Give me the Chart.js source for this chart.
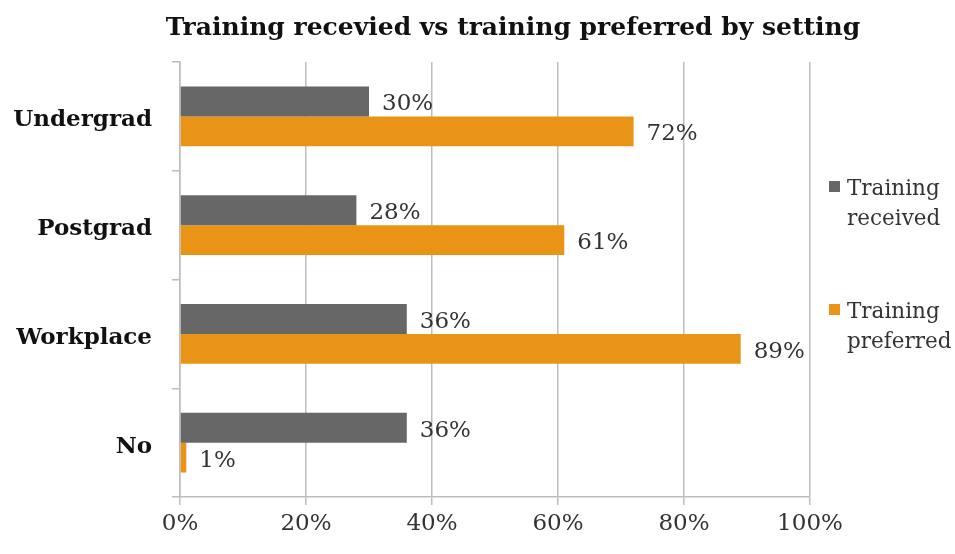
<!DOCTYPE html>
<html>
<head>
<meta charset="utf-8">
<script src="https://cdn.jsdelivr.net/npm/chart.js@4"></script>
<style>
html,body{margin:0;padding:0;background:#fff;}
#wrap{width:955px;height:554px;position:relative;}
</style>
</head>
<body>
<div id="wrap"><canvas id="c" width="955" height="554"></canvas></div>
<script>
const categories = ["Undergrad", "Postgrad", "Workplace", "No"];
const seriesNames = [["Training", "received"], ["Training", "preferred"]];
const received = [30, 28, 36, 36];
const preferred = [72, 61, 89, 1];
const xTicks = [0, 20, 40, 60, 80, 100];
const titleText = "Training recevied vs training preferred by setting";

const FONT = "'DejaVu Serif', serif";
const colors = ["#676767", "#E99417"];

const labelPlugin = {
  id: 'valueLabels',
  afterDatasetsDraw(chart) {
    const ctx = chart.ctx;
    ctx.save();
    ctx.font = "23px " + FONT;
    ctx.fillStyle = "#333";
    ctx.textBaseline = "middle";
    ctx.textAlign = "left";
    chart.data.datasets.forEach((ds, di) => {
      const meta = chart.getDatasetMeta(di);
      meta.data.forEach((bar, i) => {
        ctx.fillText(ds.data[i] + "%", bar.x + 13, bar.y + 3);
      });
    });
    // category labels
    const ys = chart.scales.y;
    ctx.font = "bold 23px " + FONT;
    ctx.fillStyle = "#111";
    ctx.textAlign = "right";
    chart.data.labels.forEach((lab, i) => {
      ctx.fillText(lab, ys.right - 28, ys.getPixelForValue(i) + 4);
    });
    ctx.restore();
  }
};

const titlePlugin = {
  id: 'customTitle',
  afterDraw(chart) {
    const ctx = chart.ctx;
    ctx.save();
    ctx.font = "bold 25px " + FONT;
    ctx.fillStyle = "#111";
    ctx.textAlign = "center";
    ctx.textBaseline = "middle";
    ctx.fillText(titleText, 513, 28);
    ctx.restore();
  }
};

const legendPlugin = {
  id: 'customLegend',
  afterDraw(chart) {
    const ctx = chart.ctx;
    ctx.save();
    ctx.font = "21.5px " + FONT;
    ctx.textAlign = "left";
    ctx.textBaseline = "middle";
    const tops = [187, 310];
    chart.data.datasets.forEach((ds, di) => {
      ctx.fillStyle = ds.backgroundColor;
      ctx.fillRect(829, tops[di] - 6, 11, 11);
      ctx.fillStyle = "#333";
      ds.legendLines.forEach((ln, k) => ctx.fillText(ln, 847, tops[di] + 2 + k * 30));
    });
    ctx.restore();
  }
};

new Chart(document.getElementById('c'), {
  type: 'bar',
  data: {
    labels: categories,
    datasets: [
      { label: seriesNames[0].join(' '), legendLines: seriesNames[0], data: received, backgroundColor: colors[0], categoryPercentage: 0.55, barPercentage: 1.0 },
      { label: seriesNames[1].join(' '), legendLines: seriesNames[1], data: preferred, backgroundColor: colors[1], categoryPercentage: 0.55, barPercentage: 1.0 }
    ]
  },
  options: {
    indexAxis: 'y',
    responsive: false,
    animation: false,
    layout: { padding: { top: 62, right: 145, left: 0, bottom: 0 } },
    plugins: { legend: { display: false }, title: { display: false }, tooltip: { enabled: false } },
    scales: {
      x: {
        min: 0, max: 100,
        afterBuildTicks(scale) { scale.ticks = xTicks.map(v => ({ value: v })); },
        afterFit(scale) { scale.height = 57; },
        grid: { color: "#bdbdbd", lineWidth: 1.5, tickLength: 8, drawTicks: true },
        border: { display: true, color: "#bdbdbd", width: 1.5 },
        ticks: { callback: v => v + "%", color: "#333", font: { family: FONT, size: 23 }, padding: 5, maxRotation: 0 }
      },
      y: {
        afterFit(scale) { scale.width = 180; },
        grid: { offset: true, drawOnChartArea: false, color: "#bdbdbd", lineWidth: 1.5, tickLength: 8 },
        border: { display: true, color: "#bdbdbd", width: 1.5 },
        ticks: { color: "rgba(0,0,0,0)", font: { family: FONT, size: 23, weight: 'bold' }, padding: 20 }
      }
    }
  },
  plugins: [labelPlugin, titlePlugin, legendPlugin]
});
</script>
</body>
</html>
